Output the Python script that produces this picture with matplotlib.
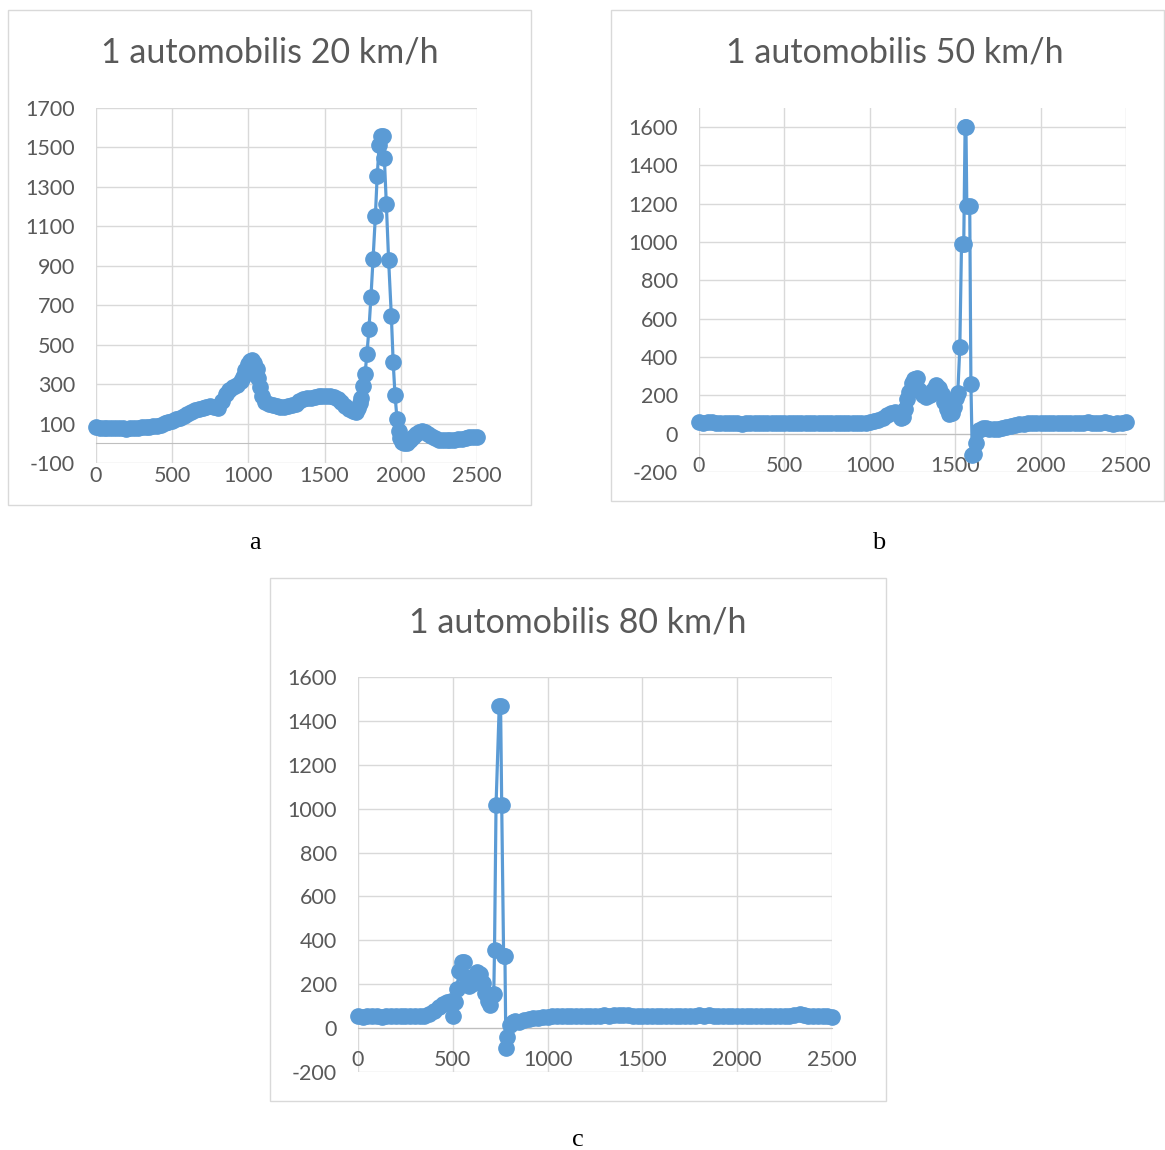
import matplotlib
matplotlib.use("Agg")
import matplotlib.pyplot as plt
from matplotlib.patches import Rectangle

plt.rcParams['font.family'] = ['Lato', 'DejaVu Sans']
plt.rcParams['axes.unicode_minus'] = False

# ---- data ----
# chart a: 1 car, 20 km/h
a_x = [0, 25, 50, 75, 100, 125, 150, 175, 200, 225, 250, 275, 300, 325, 350, 375,
       400, 425, 450, 475, 500, 525, 550, 575, 600, 625, 650, 675, 700, 725, 750,
       775, 800, 825, 850, 875, 900, 925, 950, 965, 980, 995, 1010, 1025, 1040,
       1055, 1065, 1075, 1090, 1110, 1135, 1160, 1185, 1210, 1235, 1260, 1285,
       1310, 1335, 1360, 1385, 1410, 1435, 1460, 1485, 1510, 1535, 1560, 1585,
       1610, 1635, 1660, 1685, 1705, 1720, 1730, 1739, 1752, 1765, 1778, 1791,
       1804, 1818, 1833, 1845, 1858, 1872, 1880, 1892, 1905, 1920, 1938, 1950,
       1962, 1975, 1985, 1995, 2005, 2020, 2040, 2060, 2080, 2100, 2120, 2140,
       2160, 2180, 2200, 2225, 2250, 2275, 2300, 2325, 2350, 2375, 2400, 2425,
       2450, 2475, 2500]
a_y = [82, 80, 80, 79, 78, 77, 75, 75, 74, 76, 78, 79, 81, 83, 85, 87,
       90, 95, 102, 108, 115, 122, 130, 140, 150, 160, 168, 175, 180, 185, 188,
       185, 180, 215, 250, 268, 283, 298, 315, 335, 370, 400, 418, 420, 405,
       375, 330, 285, 240, 210, 200, 192, 188, 185, 186, 188, 193,
       200, 212, 222, 228, 230, 235, 238, 240, 242, 240, 235, 225,
       210, 190, 172, 162, 160, 180, 205, 232, 290, 350, 455, 580,
       740, 935, 1150, 1355, 1510, 1560, 1560, 1445, 1215, 930, 645, 410,
       245, 125, 60, 25, 8, 2, 3, 15, 30, 45, 55, 60,
       55, 45, 35, 25, 18, 15, 15, 16, 17, 20, 23, 27,
       30, 32, 33]

# chart b: 1 car, 50 km/h
b_x = [0, 25, 50, 75, 100, 125, 150, 175, 200, 225, 250, 275, 300, 325, 350, 375,
       400, 425, 450, 475, 500, 525, 550, 575, 600, 625, 650, 675, 700, 725, 750,
       775, 800, 825, 850, 875, 900, 925, 950, 975, 1000, 1025, 1050, 1075, 1100,
       1125, 1150, 1165, 1180, 1195, 1205, 1215, 1230, 1245, 1260, 1275, 1290,
       1310, 1330, 1350, 1370, 1390, 1405, 1420, 1435, 1450, 1465, 1480, 1495,
       1505, 1515, 1527, 1537, 1550, 1558, 1563, 1568, 1585, 1592, 1600, 1612,
       1622, 1640, 1660, 1680, 1700, 1725, 1750, 1775, 1800, 1825, 1850, 1875,
       1900, 1925, 1950, 1975, 2000, 2025, 2050, 2075, 2100, 2125, 2150, 2175,
       2200, 2225, 2250, 2275, 2300, 2325, 2350, 2375, 2400, 2425, 2450, 2475, 2500]
b_y = [60, 58, 62, 60, 55, 55, 56, 55, 54, 55, 53, 55, 55, 56, 55, 57,
       58, 55, 54, 55, 55, 55, 54, 55, 54, 55, 55, 55, 54, 55, 56,
       55, 55, 55, 55, 56, 55, 55, 55, 57, 60, 65, 72, 82, 95,
       110, 115, 110, 80, 85, 130, 180, 220, 265, 285, 290, 230,
       200, 190, 200, 230, 255, 240, 205, 165, 130, 105, 110, 140,
       185, 210, 450, 990, 990, 1600, 1600, 1190, 1190, 260, -110, -105,
       -50, 20, 30, 28, 25, 22, 24, 30, 35, 40, 44, 48,
       52, 54, 55, 55, 56, 55, 57, 56, 55, 58, 56, 55,
       57, 56, 58, 60, 57, 56, 58, 60, 56, 52, 58, 57, 60]

# chart c: 1 car, 80 km/h
c_x = [0, 25, 50, 75, 100, 125, 150, 175, 200, 225, 250, 275, 300, 325, 350, 375,
       400, 425, 450, 470, 490, 500, 510, 520, 535, 550, 560, 570, 585, 600, 615,
       630, 645, 660, 672, 685, 698, 710, 716, 720, 728, 745, 752, 758, 768, 775,
       780, 788, 800, 815, 830, 850, 875, 900, 925, 950, 975, 1000, 1025, 1050,
       1075, 1100, 1125, 1150, 1175, 1200, 1225, 1250, 1275, 1300, 1325, 1350,
       1375, 1400, 1425, 1450, 1475, 1500, 1525, 1550, 1575, 1600, 1625, 1650,
       1675, 1700, 1725, 1750, 1775, 1800, 1825, 1850, 1875, 1900, 1925, 1950,
       1975, 2000, 2025, 2050, 2075, 2100, 2125, 2150, 2175, 2200, 2225, 2250,
       2275, 2300, 2330, 2350, 2375, 2400, 2425, 2450, 2475, 2500]
c_y = [55, 52, 55, 53, 54, 52, 55, 56, 54, 53, 54, 53, 54, 55, 57, 65,
       78, 95, 110, 118, 125, 55, 120, 180, 260, 300, 300, 235, 190, 200, 240,
       255, 245, 205, 160, 125, 105, 150, 155, 355, 1015, 1470, 1470, 1015, 330, 330,
       -90, -40, 15, 30, 32, 30, 35, 40, 45, 48, 50, 52, 53, 54,
       55, 56, 55, 55, 56, 57, 55, 56, 57, 58, 57, 58,
       59, 60, 58, 57, 56, 57, 56, 55, 56, 57, 55, 54,
       55, 56, 57, 56, 57, 58, 57, 58, 57, 56, 55, 56,
       55, 54, 55, 54, 55, 53, 54, 55, 54, 55, 56, 56,
       57, 58, 65, 60, 56, 54, 55, 56, 55, 52]

titles = ["1 automobilis 20 km/h", "1 automobilis 50 km/h", "1 automobilis 80 km/h"]
letters = ["a", "b", "c"]
a_ticks = [-100, 100, 300, 500, 700, 900, 1100, 1300, 1500, 1700]
bc_ticks = [-200, 0, 200, 400, 600, 800, 1000, 1200, 1400, 1600]
x_ticks = [0, 500, 1000, 1500, 2000, 2500]

W, H = 1165, 1150
fig = plt.figure(figsize=(W / 100, H / 100), dpi=100)


def fx(px):
    return px / W


def fy(py):
    return 1 - py / H


# plot areas (pixel boxes: left, top, right, bottom)
panels = [
    dict(x=a_x, y=a_y, box=(96, 108, 477, 463), ylim=(-100, 1700), ticks=a_ticks,
         frame=(8, 10, 531, 505), title_xy=(270, 53), letter_xy=(255, 543)),
    dict(x=b_x, y=b_y, box=(699, 108, 1126, 472), ylim=(-200, 1700), ticks=bc_ticks,
         frame=(611, 10, 1164, 501), title_xy=(895, 53), letter_xy=(879, 543)),
    dict(x=c_x, y=c_y, box=(358, 677, 832, 1072), ylim=(-200, 1600), ticks=bc_ticks,
         frame=(270, 578, 886, 1101), title_xy=(578, 622), letter_xy=(578, 1140)),
]

grey_text = "#595959"
blue = "#5b9bd5"

for i, p in enumerate(panels):
    l, t, r, b = p["box"]
    ax = fig.add_axes([fx(l), fy(b), fx(r) - fx(l), fy(t) - fy(b)])
    ax.plot(p["x"], p["y"], color=blue, lw=2.3, marker="o", ms=11,
            clip_on=False, zorder=3)
    ax.set_xlim(0, 2500)
    ax.set_ylim(*p["ylim"])
    ax.set_xticks(x_ticks)
    ax.set_yticks(p["ticks"])
    ax.grid(True, color="#d9d9d9", lw=1)
    ax.set_axisbelow(True)
    for s in ["top", "right", "left"]:
        ax.spines[s].set_visible(False)
    ax.spines["bottom"].set_position(("data", 0))
    ax.spines["bottom"].set_color("#bfbfbf")
    ax.tick_params(axis="both", length=0, labelsize=15.5, colors=grey_text)
    ax.tick_params(axis="y", pad=15)
    ax.tick_params(axis="x", pad=16)
    ax.set_facecolor("none")

    fl, ft, fr, fb = p["frame"]
    fig.add_artist(Rectangle((fx(fl), fy(fb)), fx(fr) - fx(fl), fy(ft) - fy(fb),
                             transform=fig.transFigure, fill=False,
                             edgecolor="#d9d9d9", lw=1))
    tx, ty = p["title_xy"]
    fig.text(fx(tx), fy(ty), titles[i], ha="center", va="center",
             fontsize=24.5, color=grey_text)
    lx, ly = p["letter_xy"]
    fig.text(fx(lx), fy(ly), letters[i], ha="center", va="center",
             fontsize=19, family="Liberation Serif", color="black")

fig.savefig("out.png", dpi=100)
